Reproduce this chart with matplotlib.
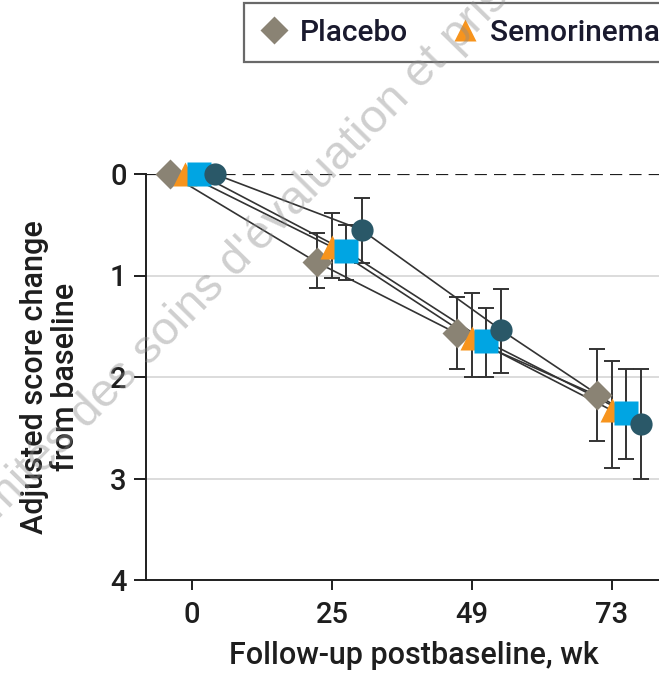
import matplotlib.pyplot as plt
from matplotlib.lines import Line2D

plt.rcParams['font.family'] = ['Roboto', 'DejaVu Sans']
plt.rcParams['font.weight'] = 'medium'
plt.rcParams['axes.labelweight'] = 'medium'

weeks = ["0", "25", "49", "73"]
groups = ["Placebo", "Semorinemab 1500 mg", "Semorinemab 4500 mg", "Semorinemab 8100 mg"]

# adjusted mean change from baseline and 95% CI bounds per visit
placebo_mean = [0, 0.87, 1.57, 2.18]
placebo_lo = [0, 0.58, 1.21, 1.72]
placebo_hi = [0, 1.12, 1.92, 2.63]

low_mean = [0, 0.72, 1.62, 2.33]
low_lo = [0, 0.38, 1.17, 1.84]
low_hi = [0, 1.02, 2.00, 2.90]

mid_mean = [0, 0.76, 1.65, 2.35]
mid_lo = [0, 0.50, 1.32, 1.92]
mid_hi = [0, 1.04, 2.00, 2.81]

high_mean = [0, 0.55, 1.54, 2.46]
high_lo = [0, 0.24, 1.13, 1.92]
high_hi = [0, 0.88, 1.96, 3.00]

series = [
    (placebo_mean, placebo_lo, placebo_hi, "D", "#8a8374"),
    (low_mean, low_lo, low_hi, "^", "#f7941d"),
    (mid_mean, mid_lo, mid_hi, "s", "#00a5e3"),
    (high_mean, high_lo, high_hi, "o", "#2a5868"),
]
dodge = [-0.11, 0.0, 0.1, 0.21]
baseline_shift = -0.05
sizes = [15, 17, 17, 16]
ink = "#1e1e1e"

fig = plt.figure(figsize=(6.59, 6.81), dpi=100)
ax = fig.add_axes([146 / 659, 1 - 580 / 681, 536 / 659, 406 / 681])

for y in [1, 2, 3]:
    ax.axhline(y, color="#d9d9d9", lw=1.3, zorder=0)
ax.axhline(0, color=ink, lw=1.6, ls=(0, (5.5, 3.2)), zorder=1)

handles = []
for i, (m, lo, hi, mk, col) in enumerate(series):
    xs = [k + dodge[i] + (baseline_shift if k == 0 else 0) for k in range(len(weeks))]
    ax.plot(xs, m, color="#333333", lw=1.2, zorder=2, clip_on=False)
    below = [mm - l for mm, l in zip(m, lo)]
    above = [h - mm for mm, h in zip(m, hi)]
    ax.errorbar(xs[1:], m[1:], yerr=[below[1:], above[1:]], fmt="none",
                ecolor="#333333", elinewidth=1.4, capsize=5.5, capthick=1.4, zorder=3)
    ax.plot(xs, m, ls="none", marker=mk, ms=sizes[i], color=col, mec="none",
            zorder=4, clip_on=False)
    handles.append(Line2D([], [], ls="none", marker=mk, ms=sizes[i] * 0.95, color=col, mec="none"))

ax.set_xlim(-0.33, 3.5)
ax.set_ylim(4, 0)
ax.set_xticks(range(len(weeks)))
ax.set_xticklabels(weeks)
ax.set_yticks([0, 1, 2, 3, 4])
ax.tick_params(axis="y", length=9, width=1.4, pad=5, labelsize=21, colors=ink)
ax.tick_params(axis="x", length=7, width=1.4, pad=8, labelsize=21, colors=ink)
for s in ["top", "right"]:
    ax.spines[s].set_visible(False)
for s in ["left", "bottom"]:
    ax.spines[s].set_linewidth(1.4)
    ax.spines[s].set_color(ink)

ax.set_xlabel("Follow-up postbaseline, wk", fontsize=22, color=ink, labelpad=9)
ax.set_ylabel("Adjusted score change\nfrom baseline", fontsize=22, color=ink,
              labelpad=22, linespacing=1.08)

leg = fig.legend(handles, groups, loc="upper left", ncol=4,
                 bbox_to_anchor=(244 / 659, 1 - 3 / 681), borderaxespad=0,
                 fontsize=21.5, frameon=True, fancybox=False, handletextpad=0.35,
                 columnspacing=1.4, borderpad=0.52, handlelength=1.0)
leg.get_frame().set_edgecolor("#444444")
leg.get_frame().set_linewidth(1.6)
for t in leg.get_texts():
    t.set_color("#1a1a2e")

# faint diagonal watermark laid over the plot
fig.text(312, 681 - 183, "Comités des soins d'évaluation et prise en charge",
         transform=None, fontsize=34, rotation=45.5, rotation_mode="anchor",
         color="#8c8c8c", alpha=0.42, ha="center", va="center", fontweight="normal",
         family=["Liberation Sans", "DejaVu Sans"], zorder=10)

fig.savefig("out.png", dpi=100)
